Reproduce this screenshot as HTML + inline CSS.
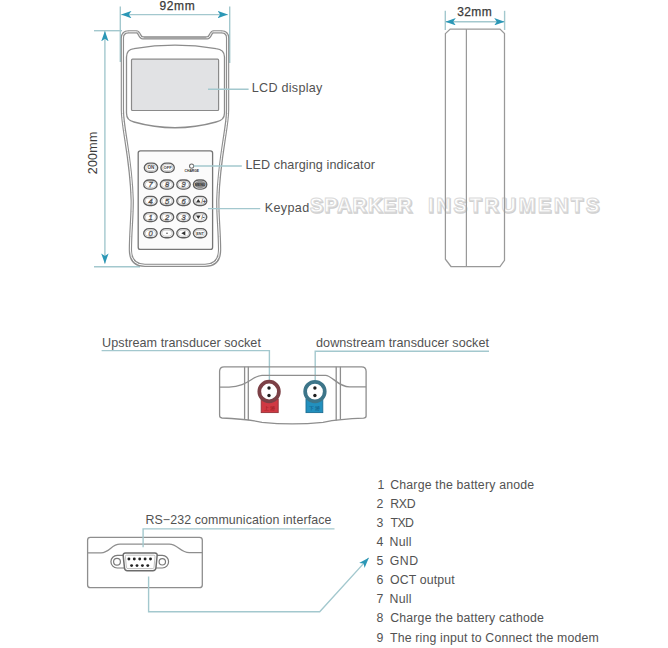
<!DOCTYPE html>
<html><head><meta charset="utf-8">
<style>
html,body{margin:0;padding:0;background:#fff;}
body{width:668px;height:648px;overflow:hidden;position:relative;}
svg{position:absolute;left:0;top:0;}
text{font-family:"Liberation Sans",sans-serif;}
</style></head>
<body>
<svg width="668" height="648" viewBox="0 0 668 648">
<defs>
  <marker id="ah" viewBox="0 0 10.4 7.4" refX="10.2" refY="3.7" markerWidth="10.4" markerHeight="7.4" orient="auto-start-reverse" markerUnits="userSpaceOnUse">
    <path d="M0,0 L10.4,3.7 L0,7.4 L2.6,3.7 Z" fill="#2b97b6"/>
  </marker>
  <path id="bodyp" d="M122.4,38 Q122.4,31.8 128.5,31.8 L136.5,31.8 C139.8,31.8 139.2,37.8 142.8,37.8 L207.2,37.8 C210.8,37.8 210.2,31.8 213.5,31.8 L221.5,31.8 Q227.6,31.8 227.6,38 L227.6,110 C227.6,128 219,158 217.8,200 C217.5,215 219.6,232 219.6,250 Q219.6,265.3 205,265.3 L145,265.3 Q130.4,265.3 130.4,250 C130.4,232 132.5,215 132.2,200 C131,158 122.4,128 122.4,110 Z"/>
  <rect id="key" x="-6.7" y="-4.55" width="13.4" height="9.1" rx="5.4" ry="4.55"/>
  <rect id="keyi" x="-5.1" y="-3.05" width="10.2" height="6.1" rx="4.2" ry="3.05"/>
</defs>
<rect width="668" height="648" fill="#fff"/>

<!-- ===== FRONT VIEW DIMENSIONS ===== -->
<g stroke="#a3c8ce" stroke-width="1.4" fill="none">
  <line x1="120.3" y1="6.5" x2="120.3" y2="62"/>
  <line x1="229.7" y1="6.5" x2="229.7" y2="63"/>
  <line x1="94" y1="30.7" x2="122" y2="30.7"/>
  <line x1="94" y1="266.7" x2="140" y2="266.7"/>
  <line x1="121.3" y1="14.6" x2="227.7" y2="14.6" marker-start="url(#ah)" marker-end="url(#ah)"/>
  <line x1="104.9" y1="31.2" x2="104.9" y2="263.6" marker-start="url(#ah)" marker-end="url(#ah)"/>
</g>
<text id="t92" x="159.4" y="9.8" font-size="12" fill="#3a3a3a" stroke="#3a3a3a" stroke-width="0.25" textLength="35.3" lengthAdjust="spacing">92mm</text>
<text id="t200" transform="translate(97.3,174.3) rotate(-90)" font-size="12.4" fill="#3c3c3c" textLength="42.6" lengthAdjust="spacing">200mm</text>

<!-- ===== FRONT VIEW BODY ===== -->
<g fill="none" stroke-linejoin="round">
  <use href="#bodyp" stroke="#8e8e8e" stroke-width="3.3"/>
  <use href="#bodyp" stroke="#fff" stroke-width="1.0"/>
  <path d="M143.5,37.8 L206.5,37.8" stroke="#a2a2a2" stroke-width="2.2"/>
  <!-- bezel -->
  <path d="M126.5,57 Q126.5,49.5 134,48.6 Q175,41.8 216,48.6 Q224.5,49.5 224.5,57 L224.5,113 Q224.5,120.5 216,122 Q175,133.5 134,122 Q126.5,120.5 126.5,113 Z" stroke="#8c8c8c" stroke-width="1.3"/>
  <!-- screen -->
  <rect x="131.5" y="59.2" width="87.1" height="51.3" rx="1" fill="#e1e2e4" stroke="#8a8a8a" stroke-width="1.2"/>
  <!-- keypad panel -->
  <rect x="138.2" y="150.8" width="74.4" height="98.6" rx="2.2" fill="#fbfbfb" stroke="#767676" stroke-width="1.3"/>
</g>

<!-- keys -->
<g id="keys">
  <g fill="#fff" stroke="#5e5e5e" stroke-width="1.35">
    <use href="#key" x="151" y="167.7"/><use href="#key" x="167.6" y="167.7"/>
    <use href="#key" x="150.4" y="184.5"/><use href="#key" x="167" y="184.5"/><use href="#key" x="183.5" y="184.5"/><use href="#key" x="200.1" y="184.5"/>
    <use href="#key" x="150.4" y="200.9"/><use href="#key" x="167" y="200.9"/><use href="#key" x="183.5" y="200.9"/><use href="#key" x="200.1" y="200.9"/>
    <use href="#key" x="150.4" y="217.1"/><use href="#key" x="167" y="217.1"/><use href="#key" x="183.5" y="217.1"/><use href="#key" x="200.1" y="217.1"/>
    <use href="#key" x="150.4" y="233.2"/><use href="#key" x="167" y="233.2"/><use href="#key" x="183.5" y="233.2"/><use href="#key" x="200.1" y="233.2"/>
  </g>
  <g fill="none" stroke="#b5b5b5" stroke-width="0.7">
    <use href="#keyi" x="151" y="167.7"/><use href="#keyi" x="167.6" y="167.7"/>
    <use href="#keyi" x="150.4" y="184.5"/><use href="#keyi" x="167" y="184.5"/><use href="#keyi" x="183.5" y="184.5"/><use href="#keyi" x="200.1" y="184.5" fill="#8c8c8c" stroke="#777"/>
    <use href="#keyi" x="150.4" y="200.9"/><use href="#keyi" x="167" y="200.9"/><use href="#keyi" x="183.5" y="200.9"/><use href="#keyi" x="200.1" y="200.9"/>
    <use href="#keyi" x="150.4" y="217.1"/><use href="#keyi" x="167" y="217.1"/><use href="#keyi" x="183.5" y="217.1"/><use href="#keyi" x="200.1" y="217.1"/>
    <use href="#keyi" x="150.4" y="233.2"/><use href="#keyi" x="167" y="233.2"/><use href="#keyi" x="183.5" y="233.2"/><use href="#keyi" x="200.1" y="233.2"/>
  </g>
  <g font-size="4.6" font-weight="bold" text-anchor="middle" fill="#444">
    <text x="151" y="169.4">ON</text>
    <text x="167.6" y="169.4" font-size="4.2">OFF</text>
    <text x="200.1" y="186.1" font-size="3.7" fill="#333">MENU</text>
    <text x="200.1" y="234.8" font-size="3.9">ENT</text>
  </g>
  <g font-size="7.6" font-style="italic" text-anchor="middle" fill="#f2f2f2" stroke="#4a4a4a" stroke-width="0.45">
    <text x="150.6" y="187.2">7</text><text x="167.2" y="187.2">8</text><text x="183.7" y="187.2">9</text>
    <text x="150.6" y="203.6">4</text><text x="167.2" y="203.6">5</text><text x="183.7" y="203.6">6</text>
    <text x="150.6" y="219.8">1</text><text x="167.2" y="219.8">2</text><text x="183.7" y="219.8">3</text>
    <text x="150.6" y="235.9">0</text>
  </g>
  <circle cx="167" cy="233.2" r="0.8" fill="#555"/>
  <path d="M181.3,233.2 L185.3,230.9 L185.3,235.5 Z" fill="#333"/>
  <path d="M196,202.6 L198.3,198.9 L200.6,202.6 Z" fill="#333"/>
  <text x="201.6" y="202.8" font-size="4.8" fill="#fff" stroke="#555" stroke-width="0.35">/+</text>
  <path d="M196,215.4 L198.3,219.1 L200.6,215.4 Z" fill="#333"/>
  <text x="201.4" y="219.4" font-size="4.8" fill="#fff" stroke="#555" stroke-width="0.35">/-</text>
  <!-- LED -->
  <circle cx="191.6" cy="166.1" r="2.1" fill="#fff" stroke="#707070" stroke-width="1.1"/>
  <text x="191.8" y="172" font-size="3.4" font-weight="bold" text-anchor="middle" fill="#2a2a2a" textLength="14.5" lengthAdjust="spacingAndGlyphs">CHARGE</text>
</g>

<!-- leaders front -->
<g stroke="#a3c8ce" stroke-width="1.4" fill="none">
  <line x1="208" y1="89.3" x2="248.6" y2="89.3"/>
  <line x1="193.6" y1="166" x2="241.8" y2="166"/>
  <line x1="208" y1="208.6" x2="260.2" y2="208.6"/>
</g>
<g font-size="12.6" fill="#525252" lengthAdjust="spacing">
  <text id="lcd" x="251.8" y="92.3" textLength="70.5" lengthAdjust="spacing">LCD display</text>
  <text id="led" x="245.4" y="168.8" textLength="129.6" lengthAdjust="spacing">LED charging indicator</text>
  <text id="kp" x="264.7" y="211.6" textLength="44.5" lengthAdjust="spacing">Keypad</text>
</g>

<!-- watermark -->
<g font-size="20" font-weight="bold" transform="translate(0,212.2)">
  <g fill="#e4e4e4" stroke="#d0d0d0" stroke-width="1.5" transform="translate(0.8,0.9)">
    <text id="wm1s" x="309.8" y="0" textLength="102" lengthAdjust="spacing">SPARKER</text>
    <text id="wm2s" x="428" y="0" textLength="171" lengthAdjust="spacing">INSTRUMENTS</text>
  </g>
  <g fill="#fff" stroke="#dadada" stroke-width="0.9">
    <text id="wm1" x="309.8" y="0" textLength="102" lengthAdjust="spacing">SPARKER</text>
    <text id="wm2" x="428" y="0" textLength="171" lengthAdjust="spacing">INSTRUMENTS</text>
  </g>
</g>

<!-- ===== SIDE VIEW ===== -->
<g stroke="#a3c8ce" stroke-width="1.4" fill="none">
  <line x1="445.3" y1="10.8" x2="445.3" y2="30"/>
  <line x1="504.6" y1="10.8" x2="504.6" y2="30"/>
  <line x1="445.6" y1="21.7" x2="504.4" y2="21.7" marker-start="url(#ah)" marker-end="url(#ah)"/>
</g>
<text id="t32" x="457.3" y="15.6" font-size="12" fill="#3a3a3a" stroke="#3a3a3a" stroke-width="0.25" textLength="34.4" lengthAdjust="spacing">32mm</text>
<g fill="none" stroke="#999" stroke-width="1.25">
  <path d="M445.4,33.6 L450.2,29 L500,29 L504.5,33.6 L504.5,260.4 L500,266.5 L451,266.5 L445.4,259.2 Z"/>
  <line x1="466.4" y1="29" x2="466.4" y2="266.5"/>
</g>


<!-- ===== SOCKETS ===== -->
<g stroke="#a3c8ce" stroke-width="1.4" fill="none">
  <polyline points="101.6,350.6 269.4,350.6 269.4,380"/>
  <polyline points="489,351.3 315.2,351.3 315.2,380"/>
</g>
<g font-size="12.6" fill="#525252">
  <text id="up" x="102.1" y="346.6" textLength="158.8" lengthAdjust="spacing">Upstream transducer socket</text>
  <text id="down" x="316.0" y="346.6" textLength="173.0" lengthAdjust="spacing">downstream transducer socket</text>
</g>
<g fill="none" stroke="#8e8e8e" stroke-width="1.3">
  <path d="M219.6,371.3 Q219.6,366.8 224.1,366.8 L361.6,366.8 Q366.1,366.8 366.1,371.3 L366.1,416 Q366.1,418 363.5,418.2 Q340,419 323,422.3 Q292,425.5 262,422.3 Q246,419 222,418 Q219.6,417.8 219.6,415.5 Z"/>
  <path d="M219.6,387.1 L229,387.1 C247,387.1 253,375.3 262,375.3 L325.5,375.3 C332,375.3 338,386.9 349.5,386.9 L366.1,386.9"/>
  <line x1="244.6" y1="366.8" x2="244.6" y2="419.5"/>
  <line x1="248.3" y1="366.8" x2="248.3" y2="420.2"/>
  <line x1="336.2" y1="366.8" x2="336.2" y2="420.4"/>
  <line x1="340.4" y1="366.8" x2="340.4" y2="419.6"/>
</g>
<!-- red socket -->
<rect x="261.2" y="399" width="17" height="13.6" fill="#d03943" stroke="#93343a" stroke-width="0.9"/>
<circle cx="269.1" cy="391.5" r="9.8" fill="#fff" stroke="#7c4046" stroke-width="3.7"/>
<circle cx="269" cy="388" r="1.7" fill="#1e1e1e"/>
<circle cx="269" cy="395.5" r="1.7" fill="#1e1e1e"/>
<text x="269.7" y="410.3" font-size="5.2" text-anchor="middle" fill="#8e1418">上 游</text>
<!-- blue socket -->
<rect x="306" y="399" width="16.8" height="13.6" fill="#2290be" stroke="#1c6e93" stroke-width="0.9"/>
<circle cx="314.95" cy="391.6" r="9.8" fill="#fff" stroke="#3d7589" stroke-width="3.7"/>
<circle cx="314.9" cy="388" r="1.7" fill="#1e1e1e"/>
<circle cx="314.9" cy="395.5" r="1.7" fill="#1e1e1e"/>
<text x="314.4" y="410.3" font-size="5.2" text-anchor="middle" fill="#0d4f77">下 游</text>

<!-- ===== RS-232 ===== -->
<g fill="none" stroke="#8e8e8e" stroke-width="1.3">
  <rect x="87.6" y="537.3" width="114.7" height="50.4" rx="2.8"/>
  <path d="M87.6,552.8 L101,552.8 C110,552.8 111,544.2 120,544.2 L169.3,544.2 C178,544.2 180,552.6 189.3,552.6 L202.3,552.6"/>
</g>
<!-- DB9 -->
<g fill="#fff" stroke="#7a7a7a" stroke-width="1.2">
  <path d="M117.2,555.4 L162.3,555.4 A6.3,6.3 0 0 1 162.3,568 L117.2,568 A6.3,6.3 0 0 1 117.2,555.4 Z"/>
  <circle cx="117" cy="561.7" r="3.4"/>
  <circle cx="162.3" cy="561.8" r="3.2"/>
  <path d="M125.6,553 L154.8,553 Q157.6,553 157.1,555.8 L155.9,568 Q155.5,570.7 152.8,570.7 L127.4,570.7 Q124.8,570.7 124.5,568 L123.2,555.8 Q122.8,553 125.6,553 Z" stroke="#6c6c6c" stroke-width="1.5"/>
  <path d="M126.6,555.2 L153.8,555.2 Q155.2,555.2 155,556.6 L154,567.3 Q153.8,568.6 152.4,568.6 L128,568.6 Q126.6,568.6 126.4,567.3 L125.4,556.6 Q125.2,555.2 126.6,555.2 Z" stroke="#b0b0b0" stroke-width="0.8"/>
</g>
<g fill="#222">
  <circle cx="128.9" cy="559" r="1.45"/><circle cx="134.3" cy="559" r="1.45"/><circle cx="139.7" cy="559" r="1.45"/><circle cx="145.1" cy="559" r="1.45"/><circle cx="150.5" cy="559" r="1.45"/>
  <circle cx="131.6" cy="565.6" r="1.45"/><circle cx="137" cy="565.6" r="1.45"/><circle cx="142.4" cy="565.6" r="1.45"/><circle cx="147.8" cy="565.6" r="1.45"/>
</g>
<g stroke="#a3c8ce" stroke-width="1.4" fill="none">
  <polyline points="143.1,547.3 143.1,528.9 334.5,528.9"/>
  <polyline points="148.6,576.6 148.6,611.8 319.7,611.8 368.7,557.9" marker-end="url(#ah)"/>
</g>
<text id="rs" x="145.4" y="523.7" font-size="12.4" fill="#525252" textLength="186.0" lengthAdjust="spacing">RS&#8722;232 communication interface</text>

<!-- pin list -->
<g font-size="12.3" fill="#525252">
  <text x="377.6" y="489.1">1</text><text id="p1" x="390.2" y="489.1" textLength="143.9" lengthAdjust="spacing">Charge the battery anode</text>
  <text x="376.4" y="508.1">2</text><text id="p2" x="390.2" y="508.1" textLength="25.4" lengthAdjust="spacing">RXD</text>
  <text x="376.4" y="527.2">3</text><text id="p3" x="390.6" y="527.2" textLength="23.4" lengthAdjust="spacing">TXD</text>
  <text x="376.4" y="546.2">4</text><text id="p4" x="389.6" y="546.2" textLength="21.9" lengthAdjust="spacing">Null</text>
  <text x="376.4" y="565.3">5</text><text id="p5" x="389.8" y="565.3" textLength="28.3" lengthAdjust="spacing">GND</text>
  <text x="376.4" y="584.3">6</text><text id="p6" x="390.0" y="584.3" textLength="64.7" lengthAdjust="spacing">OCT output</text>
  <text x="376.4" y="603.4">7</text><text id="p7" x="389.6" y="603.4" textLength="21.9" lengthAdjust="spacing">Null</text>
  <text x="376.4" y="622.4">8</text><text id="p8" x="390.2" y="622.4" textLength="153.7" lengthAdjust="spacing">Charge the battery cathode</text>
  <text x="376.4" y="641.5">9</text><text id="p9" x="390.0" y="641.5" textLength="208.8" lengthAdjust="spacing">The ring input to Connect the modem</text>
</g>
</svg>
</body></html>
